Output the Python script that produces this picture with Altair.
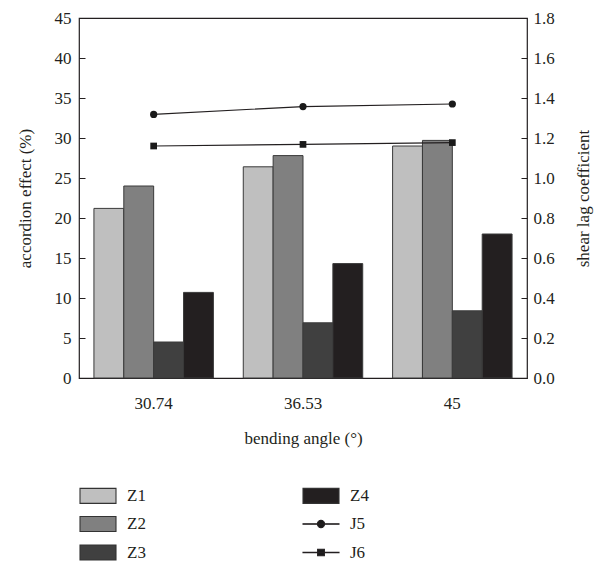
import altair as alt
import pandas as pd

# ---- data ----
angles = ["30.74", "36.53", "45"]
bar_series = ["Z1", "Z2", "Z3", "Z4"]
z1 = [21.2, 26.4, 29.0]
z2 = [24.0, 27.8, 29.7]
z3 = [4.5, 6.9, 8.4]
z4 = [10.7, 14.3, 18.0]
line_series = ["J5", "J6"]
j5 = [1.318, 1.357, 1.370]
j6 = [1.160, 1.168, 1.177]
left_ticks = [0, 5, 10, 15, 20, 25, 30, 35, 40, 45]
right_ticks = [0.0, 0.2, 0.4, 0.6, 0.8, 1.0, 1.2, 1.4, 1.6, 1.8]
legend_order = ["Z1", "Z2", "Z3", "Z4", "J5", "J6"]

# ---- styles ----
FONT = "Liberation Serif"
TXT = "#231f20"
legend_colors = ["#bfbfbf", "#808080", "#404040", "#231f20", "#1a1a1a", "#1a1a1a"]
legend_strokes = ["#333333", "#333333", "#333333", "#333333", "#231f20", "#231f20"]
RECT = "M-1,-1H3.8V1H-1Z"
LINE_CIRCLE = ("M-1,-0.02H3.8V0.02H-1Z"
               "M0.92,0A0.48,0.48 0 1,1 1.88,0A0.48,0.48 0 1,1 0.92,0Z")
LINE_SQUARE = "M-1,-0.02H3.8V0.02H-1ZM0.95,-0.43H1.85V0.43H0.95Z"
legend_shapes = [RECT, RECT, RECT, RECT, LINE_CIRCLE, LINE_SQUARE]

bars_df = pd.DataFrame(
    [{"angle": a, "series": s, "value": v}
     for s, vals in zip(bar_series, [z1, z2, z3, z4])
     for a, v in zip(angles, vals)]
)
lines_df = pd.DataFrame(
    [{"angle": a, "series": s, "value": v}
     for s, vals in zip(line_series, [j5, j6])
     for a, v in zip(angles, vals)]
)
legend_df = pd.DataFrame({"series": legend_order})

fill_scale = alt.Scale(domain=legend_order, range=legend_colors)
shape_scale = alt.Scale(domain=legend_order, range=legend_shapes)
stroke_scale = alt.Scale(domain=legend_order, range=legend_strokes)

leg = alt.Legend(
    title=None, orient="none", legendX=0, legendY=469, columns=2, direction="vertical",
    columnPadding=154, rowPadding=7.5, padding=0,
    labelFont=FONT, labelFontSize=17, labelColor=TXT, labelOffset=31,
    symbolSize=225, symbolStrokeColor="#333333", symbolStrokeWidth=1.1,
    symbolOpacity=1,
)

x_enc = alt.X(
    "angle:N", sort=angles,
    scale=alt.Scale(paddingInner=0.2, paddingOuter=0.1),
    axis=alt.Axis(title="bending angle (°)", labelAngle=0, ticks=False, domain=False,
                  labelPadding=17, titlePadding=19),
)

bars = alt.Chart(bars_df).mark_bar(stroke="#3a3a3a", strokeWidth=1).encode(
    x=x_enc,
    xOffset=alt.XOffset("series:N", sort=bar_series,
                        scale=alt.Scale(paddingInner=0, paddingOuter=0)),
    y=alt.Y("value:Q", scale=alt.Scale(domain=[0, 45], nice=False, zero=True),
            axis=alt.Axis(values=left_ticks, title="accordion effect (%)", orient="left",
                          offset=-6, tickSize=6, domain=False, grid=False,
                          labelPadding=8, titlePadding=20)),
    fill=alt.Fill("series:N", scale=fill_scale, legend=leg),
)

y_right = alt.Y("value:Q", scale=alt.Scale(domain=[0, 1.8], nice=False, zero=True),
                axis=alt.Axis(values=right_ticks, format=".1f", title="shear lag coefficient",
                              orient="right", offset=-6, tickSize=6, domain=False, grid=False,
                              labelPadding=6, titlePadding=38, titleAngle=270))

lines = alt.Chart(lines_df).mark_line(stroke="#231f20", strokeWidth=1.1).encode(
    x=alt.X("angle:N", sort=angles), y=y_right, detail="series:N"
)
pts5 = alt.Chart(lines_df).transform_filter("datum.series == 'J5'").mark_point(
    shape="circle", filled=True, fill="#1a1a1a", size=52, opacity=1
).encode(x=alt.X("angle:N", sort=angles), y=y_right)
pts6 = alt.Chart(lines_df).transform_filter("datum.series == 'J6'").mark_point(
    shape="square", filled=True, fill="#1a1a1a", size=45, opacity=1
).encode(x=alt.X("angle:N", sort=angles), y=y_right)

right = alt.layer(lines, pts5, pts6)

dummy = alt.Chart(legend_df).mark_point(
    filled=True, strokeWidth=1.1, opacity=0
).encode(
    fill=alt.Fill("series:N", scale=fill_scale, legend=leg),
    shape=alt.Shape("series:N", scale=shape_scale, legend=leg),
    stroke=alt.Stroke("series:N", scale=stroke_scale, legend=leg),
)

chart = alt.layer(bars, right, dummy).resolve_scale(y="independent").properties(
    width=448, height=360,
    autosize=alt.AutoSizeParams(type="none"),
    padding={"left": 79, "top": 18, "right": 68, "bottom": 186},
).configure_view(stroke=TXT, strokeWidth=1.2).configure_axis(
    labelFont=FONT, titleFont=FONT, labelFontSize=17, titleFontSize=17,
    labelColor=TXT, titleColor=TXT, tickColor=TXT, titleFontWeight="normal",
).configure_legend(
    symbolStrokeColor="#333333", symbolStrokeWidth=1.1, symbolOpacity=1,
)

chart.save("out.html", embed_options={"renderer": "svg", "actions": False})
